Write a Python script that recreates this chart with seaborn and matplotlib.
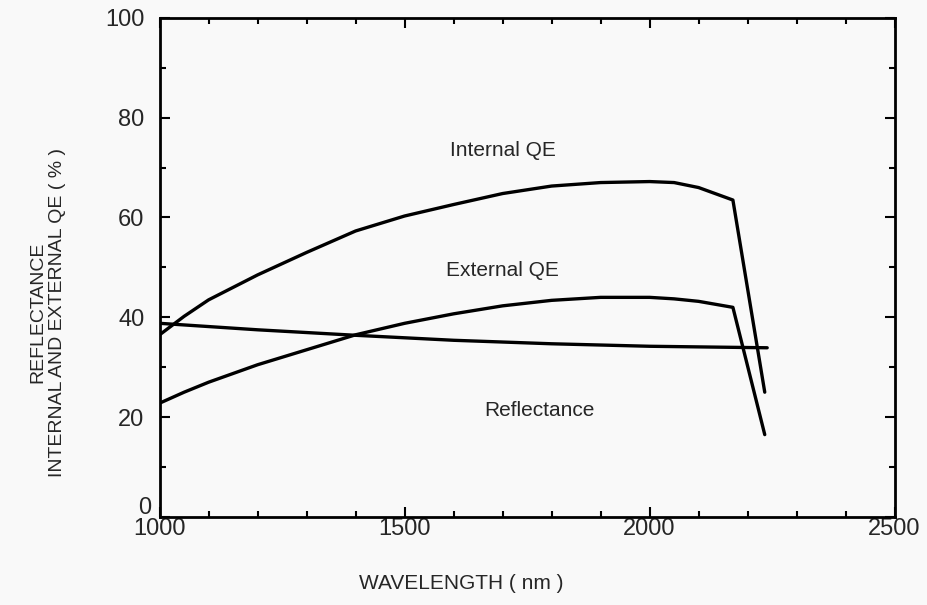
import pandas as pd
import seaborn as sns
import matplotlib.pyplot as plt
from matplotlib.ticker import MultipleLocator, FuncFormatter

# values
wl_qe = [1000, 1050, 1100, 1200, 1300, 1400, 1500, 1600, 1700, 1800, 1900, 2000, 2050, 2100, 2170, 2235]
internal_qe = [36.5, 40.2, 43.5, 48.5, 53.0, 57.3, 60.3, 62.6, 64.8, 66.3, 67.0, 67.2, 67.0, 66.0, 63.5, 25.0]
external_qe = [22.8, 25.0, 27.0, 30.5, 33.5, 36.5, 38.8, 40.7, 42.3, 43.4, 44.0, 44.0, 43.7, 43.2, 42.0, 16.5]

wl_refl = [1000, 1200, 1400, 1600, 1800, 2000, 2240]
reflectance = [38.8, 37.5, 36.4, 35.4, 34.7, 34.2, 33.9]

sns.set_style("ticks")
plt.rcParams["font.family"] = ["Liberation Sans", "DejaVu Sans"]

fig = plt.figure(figsize=(9.28, 6.05), dpi=100, facecolor="#f9f9f9")
ax = fig.add_axes([0.172, 0.1455, 0.792, 0.825])
ax.set_facecolor("#f9f9f9")

qe_df = pd.DataFrame({"wl": wl_qe, "internal": internal_qe, "external": external_qe})
refl_df = pd.DataFrame({"wl": wl_refl, "refl": reflectance})

sns.lineplot(data=qe_df, x="wl", y="internal", color="black", lw=2.4, sort=False, ax=ax)
sns.lineplot(data=qe_df, x="wl", y="external", color="black", lw=2.4, sort=False, ax=ax)
sns.lineplot(data=refl_df, x="wl", y="refl", color="black", lw=2.4, sort=False, ax=ax)

ax.text(1700, 73.4, "Internal QE", fontsize=15, ha="center", va="center")
ax.text(1700, 49.4, "External QE", fontsize=15, ha="center", va="center")
ax.text(1775, 21.4, "Reflectance", fontsize=15, ha="center", va="center")

ax.set_xlim(1000, 2500)
ax.set_ylim(0, 100)
ax.xaxis.set_major_locator(MultipleLocator(500))
ax.xaxis.set_minor_locator(MultipleLocator(100))
ax.yaxis.set_major_locator(MultipleLocator(20))
ax.yaxis.set_minor_locator(MultipleLocator(10))
# "0" is drawn by hand a bit higher so it does not sit on "1000"
ax.yaxis.set_major_formatter(FuncFormatter(lambda v, p: "" if v == 0 else f"{v:.0f}"))
ax.tick_params(which="both", direction="in", top=True, right=True, width=1.5, labelsize=17, color="black")
ax.tick_params(which="major", length=7)
ax.tick_params(axis="y", which="major", pad=11)
ax.tick_params(axis="x", which="major", pad=1)
ax.tick_params(which="minor", length=4)
for s in ax.spines.values():
    s.set_linewidth(2)
    s.set_color("black")

ax.text(-0.012, 0.018, "0", transform=ax.transAxes, fontsize=17, ha="right", va="center")

ax.set_xlabel("WAVELENGTH ( nm )", fontsize=15)
ax.xaxis.set_label_coords(0.41, -0.115)
ax.set_ylabel("REFLECTANCE\nINTERNAL AND EXTERNAL QE ( % )", fontsize=14, linespacing=1.15)
ax.yaxis.set_label_coords(-0.128, 0.41)

plt.savefig("out.png", dpi=100, facecolor=fig.get_facecolor())
